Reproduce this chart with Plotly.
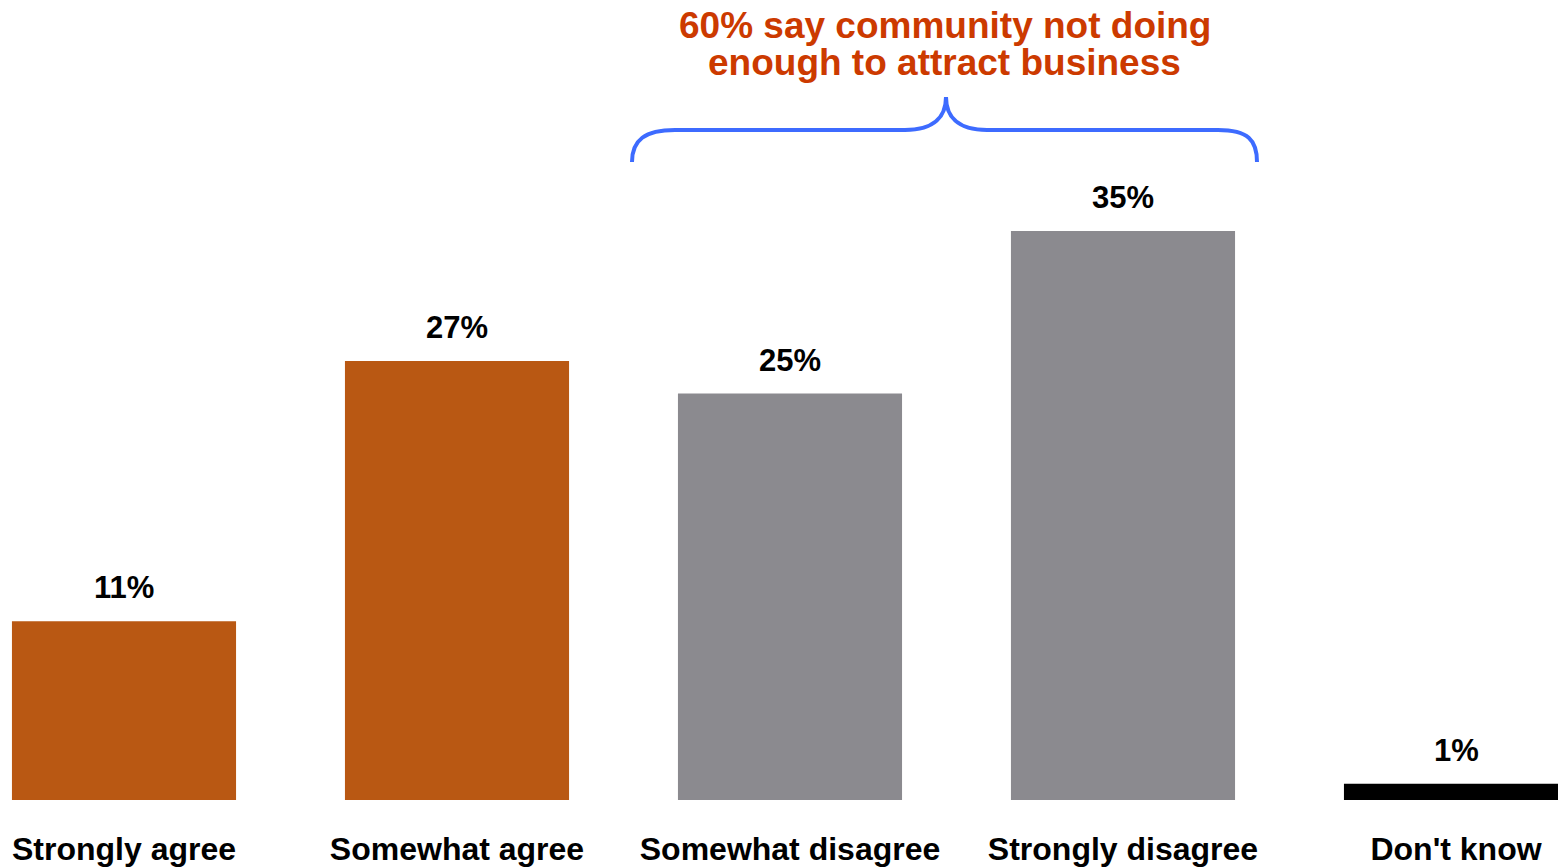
import plotly.graph_objects as go

categories = ["Strongly agree", "Somewhat agree", "Somewhat disagree", "Strongly disagree", "Don't know"]
values = [11, 27, 25, 35, 1]
value_labels = ["11%", "27%", "25%", "35%", "1%"]
bar_colors = ["#B95813", "#B95813", "#8B8A8F", "#8B8A8F", "#000000"]
title_lines = ["60% say community not doing", "enough to attract business"]

W, H = 1558, 867
PLOT_BOTTOM = 800  # pixel y of plot bottom (baseline)
FONT = "Arial, Liberation Sans, sans-serif"

fig = go.Figure()
fig.add_trace(go.Bar(
    x=categories, y=values,
    marker=dict(color=bar_colors, line=dict(width=0)),
    width=0.673,
    hoverinfo="skip",
))

# value labels above bars
for c, v, t in zip(categories, values, value_labels):
    fig.add_annotation(x=c, y=v, text=t, showarrow=False, xref="x", yref="y",
                       yanchor="bottom", yshift=14,
                       font=dict(family=FONT, size=31, color="#000000", weight="bold"))

def px(xp):
    return xp / W

def py(yp):
    return 1 - yp / PLOT_BOTTOM

# title lines
for line, ypix in zip(title_lines, [25, 62]):
    fig.add_annotation(x=px(945), y=py(ypix), xref="paper", yref="paper", text=line,
                       showarrow=False, xanchor="center", yanchor="middle",
                       font=dict(family=FONT, size=37, color="#CC3A00", weight="bold"))

# curly brace (pixel-based decoration converted to paper coords)
pts = [
    ("M", [(632, 162)]),
    ("C", [(632, 140), (645, 130), (675, 130)]),
    ("L", [(905, 130)]),
    ("C", [(935, 130), (946, 116), (946, 97)]),
    ("C", [(946, 116), (957, 130), (987, 130)]),
    ("L", [(1218, 130)]),
    ("C", [(1248, 130), (1257, 140), (1257, 162)]),
]
path = " ".join(cmd + " " + " ".join(f"{px(a):.5f},{py(b):.5f}" for a, b in p) for cmd, p in pts)
fig.add_shape(type="path", path=path, xref="paper", yref="paper",
              line=dict(color="#3D6BFF", width=4))

fig.update_layout(
    width=W, height=H,
    margin=dict(l=0, r=0, t=0, b=H - PLOT_BOTTOM),
    plot_bgcolor="white", paper_bgcolor="white",
    showlegend=False,
    xaxis=dict(range=[-124 / 333, (W - 124) / 333], showgrid=False, zeroline=False,
               showline=False, ticks="outside", ticklen=21, tickcolor="rgba(0,0,0,0)",
               tickfont=dict(family=FONT, size=32, color="#000000", weight="bold"),
               fixedrange=True),
    yaxis=dict(range=[0, PLOT_BOTTOM / 16.26], showgrid=False, zeroline=False,
               showline=False, showticklabels=False, fixedrange=True),
)

fig.write_html(
    "out.html",
    config={"displayModeBar": False},
    post_script="document.body.style.margin='0';document.body.style.overflow='hidden';",
)
